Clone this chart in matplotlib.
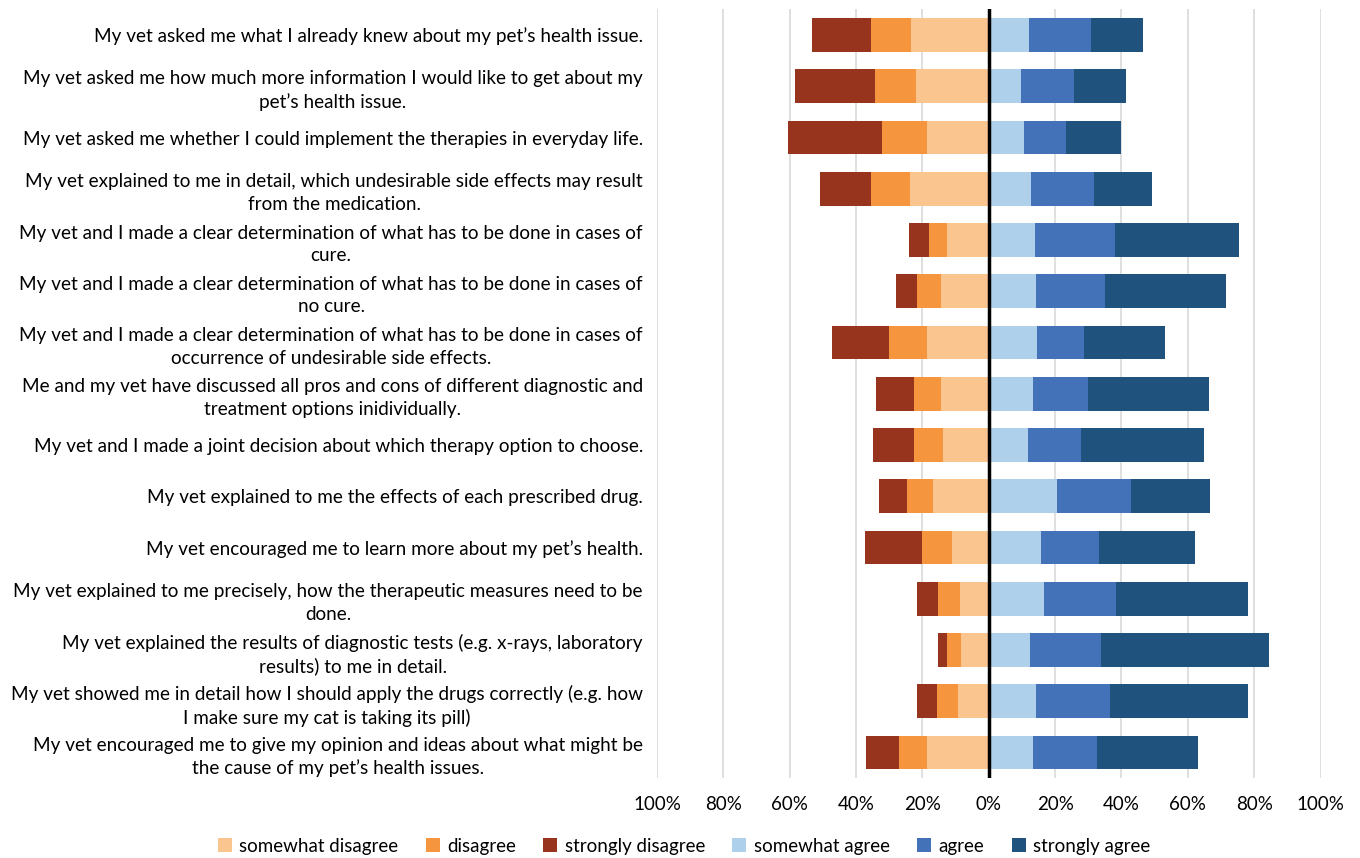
import numpy as np
import matplotlib
matplotlib.use('Agg')
import matplotlib.pyplot as plt

plt.rcParams['font.family'] = ['Lato', 'DejaVu Sans']

# survey statements, top to bottom
statements = [
    "My vet asked me what I already knew about my pet\u2019s health issue.",
    "My vet asked me how much more information I would like to get about my\npet\u2019s health issue.",
    "My vet asked me whether I could implement the therapies in everyday life.",
    "My vet explained to me in detail, which undesirable side effects may result\nfrom the medication.",
    "My vet and I made a clear determination of what has to be done in cases of\ncure.",
    "My vet and I made a clear determination of what has to be done in cases of\nno cure.",
    "My vet and I made a clear determination of what has to be done in cases of\noccurrence of undesirable side effects.",
    "Me and my vet have discussed all pros and cons of different diagnostic and\ntreatment options inidividually.",
    "My vet and I made a joint decision about which therapy option to choose.",
    "My vet explained to me the effects of each prescribed drug.",
    "My vet encouraged me to learn more about my pet\u2019s health.",
    "My vet explained to me precisely, how the therapeutic measures need to be\ndone.",
    "My vet explained the results of diagnostic tests (e.g. x-rays, laboratory\nresults) to me in detail.",
    "My vet showed me in detail how I should apply the drugs correctly (e.g. how\nI make sure my cat is taking its pill)",
    "My vet encouraged me to give my opinion and ideas about what might be\nthe cause of my pet\u2019s health issues.",
]

# percentages per answer category
somewhat_disagree = [23.3, 21.9, 18.7, 23.7, 12.7, 14.4, 18.5, 14.4, 13.8, 16.9, 11.0, 8.6, 8.4, 9.2, 18.5]
disagree = [12.3, 12.4, 13.5, 11.9, 5.2, 7.3, 11.6, 8.1, 8.6, 7.7, 9.2, 6.6, 4.3, 6.3, 8.5]
strongly_disagree = [17.6, 24.0, 28.2, 15.3, 6.1, 6.3, 17.0, 11.4, 12.4, 8.5, 17.2, 6.4, 2.5, 6.1, 9.9]
somewhat_agree = [12.1, 9.8, 10.5, 12.8, 13.8, 14.2, 14.6, 13.4, 11.7, 20.6, 15.9, 16.7, 12.4, 14.2, 13.4]
agree = [18.8, 16.0, 12.7, 19.0, 24.3, 20.9, 14.1, 16.6, 16.2, 22.2, 17.4, 21.8, 21.5, 22.2, 19.1]
strongly_agree = [15.6, 15.6, 16.6, 17.3, 37.4, 36.5, 24.3, 36.3, 37.0, 23.8, 29.0, 39.6, 50.6, 41.7, 30.7]

ticks = [-100, -80, -60, -40, -20, 0, 20, 40, 60, 80, 100]

colors = {
    'somewhat disagree': '#FBC590',
    'disagree': '#F5963F',
    'strongly disagree': '#96341E',
    'somewhat agree': '#AFD0EA',
    'agree': '#4472B8',
    'strongly agree': '#1F537D',
}

fig = plt.figure(figsize=(13.6, 8.58), dpi=100)
ax = fig.add_axes([0.483, 0.093, 0.488, 0.896])

y = np.arange(len(statements))
h = 0.66

sd = np.array(somewhat_disagree)
d = np.array(disagree)
sdd = np.array(strongly_disagree)
sa = np.array(somewhat_agree)
a = np.array(agree)
saa = np.array(strongly_agree)

bars = {}
bars['somewhat disagree'] = ax.barh(y, -sd, height=h, color=colors['somewhat disagree'], zorder=2)
bars['disagree'] = ax.barh(y, -d, left=-sd, height=h, color=colors['disagree'], zorder=2)
bars['strongly disagree'] = ax.barh(y, -sdd, left=-(sd + d), height=h, color=colors['strongly disagree'], zorder=2)
bars['somewhat agree'] = ax.barh(y, sa, height=h, color=colors['somewhat agree'], zorder=2)
bars['agree'] = ax.barh(y, a, left=sa, height=h, color=colors['agree'], zorder=2)
bars['strongly agree'] = ax.barh(y, saa, left=sa + a, height=h, color=colors['strongly agree'], zorder=2)

ax.axvline(0, color='black', lw=2.5, zorder=3)

ax.set_xlim(-100, 100)
ax.set_ylim(len(statements) - 0.5, -0.5)
ax.set_xticks(ticks)
ax.set_xticklabels([f"{abs(t)}%" for t in ticks], fontsize=13.5)
ax.set_yticks(y)
ax.set_yticklabels(statements, fontsize=13.6, multialignment='center', linespacing=1.4)
ax.tick_params(axis='both', length=0)
ax.tick_params(axis='x', pad=13)
ax.tick_params(axis='y', pad=10)
ax.xaxis.grid(True, color='#D9D9D9', lw=1.2, zorder=0)
ax.set_axisbelow(True)
for s in ax.spines.values():
    s.set_visible(False)

fig.legend([bars[k] for k in colors], list(colors.keys()), loc='lower center',
           bbox_to_anchor=(0.503, -0.016), ncol=6, frameon=False, fontsize=13.5,
           handlelength=0.75, handleheight=0.75, handletextpad=0.4, columnspacing=1.45)

fig.savefig('out.png', dpi=100)
